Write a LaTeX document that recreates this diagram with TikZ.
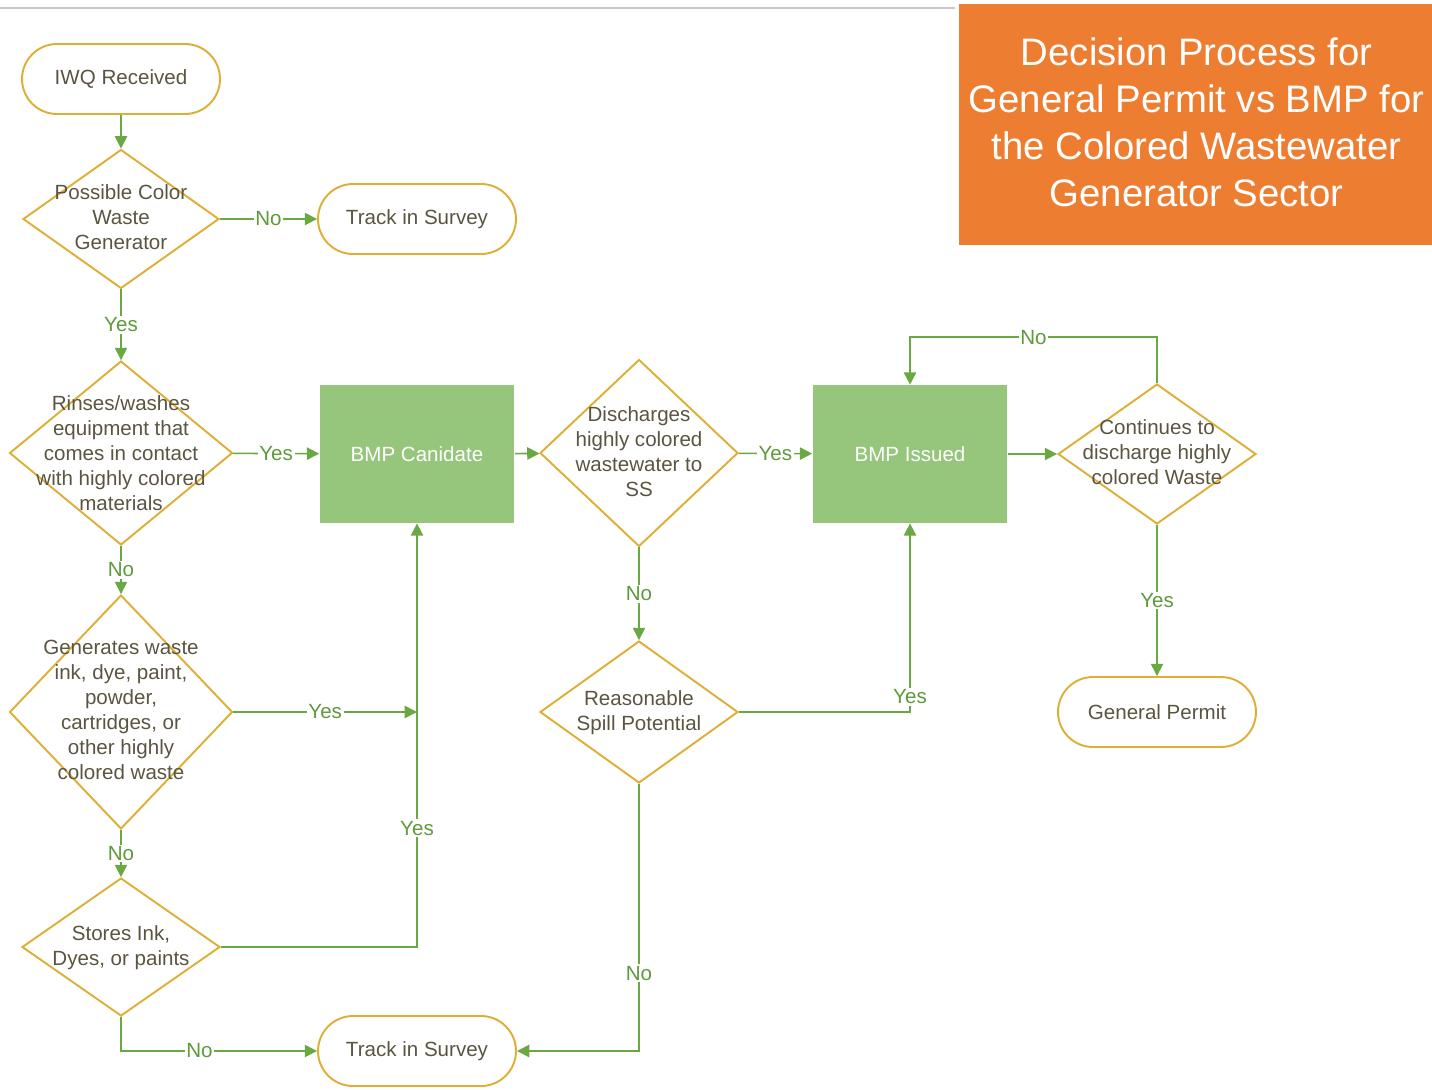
\documentclass[tikz,border=0pt]{standalone}
\usepackage{fontspec}
\setmainfont{Liberation Sans}
\usepackage{xcolor}
\usetikzlibrary{positioning, shapes, arrows.meta}

\definecolor{flowgold}{HTML}{DDAF35}
\definecolor{flowgreen}{HTML}{6AA843}
\definecolor{labgreen}{HTML}{5E9A3A}
\definecolor{boxgreen}{HTML}{96C67C}
\definecolor{inktext}{HTML}{5A5440}
\definecolor{titleorange}{HTML}{ED7D31}

\begin{document}
\begin{tikzpicture}[x=0.02cm, y=-0.02cm,
    >={Triangle[length=7pt,width=7pt]},
    every node/.style={font=\fontsize{11.7}{14.2}\selectfont},
    term/.style={draw=flowgold, line width=1.1pt, rectangle, rounded corners=0.7cm,
        minimum width=3.96cm, minimum height=1.4cm, text=inktext},
    dia/.style={draw=flowgold, line width=1.1pt, diamond, inner sep=0pt},
    txt/.style={align=center, text=inktext, inner sep=0pt},
    bmpbox/.style={fill=boxgreen, rectangle, minimum width=3.9cm, minimum height=2.76cm, text=white},
    link/.style={draw=flowgreen, line width=0.9pt, ->},
    ans/.style={fill=white, text=labgreen, inner sep=1pt}]

    \useasboundingbox (0,0) rectangle (1432,1089);

    % Top rule and title
    \draw[draw=black!22, line width=1pt] (0,8) -- (955,8);
    \node[fill=titleorange, minimum width=9.46cm, minimum height=4.82cm] (title) at (1195.5,124.5) {};
    \node[text=white, align=center, inner sep=0pt, font=\fontsize{21.8}{26.7}\selectfont]
        (title-t) at (1196.5,122)
        {Decision Process for\\General Permit vs BMP for\\the Colored Wastewater\\Generator Sector};

    % Left column
    \node[term] (iwq) at (121,79) {IWQ Received};
    \node[dia, minimum width=3.92cm, minimum height=2.78cm] (poss) at (121,219) {};
    \node[txt] (poss-t) at (121,217) {Possible Color\\Waste\\Generator};
    \node[term] (track1) at (417,219) {Track in Survey};
    \node[dia, minimum width=4.46cm, minimum height=3.68cm] (rinse) at (121,453) {};
    \node[txt] (rinse-t) at (121,453) {Rinses/washes\\equipment that\\comes in contact\\with highly colored\\materials};
    \node[dia, minimum width=4.46cm, minimum height=4.68cm] (gen) at (121,712) {};
    \node[txt] (gen-t) at (121,710) {Generates waste\\ink, dye, paint,\\powder,\\cartridges, or\\other highly\\colored waste};
    \node[dia, minimum width=3.96cm, minimum height=2.76cm] (store) at (121,947) {};
    \node[txt] (store-t) at (121,948) {Stores Ink,\\Dyes, or paints};
    \node[term] (track2) at (417,1051) {Track in Survey};

    % Middle and right
    \node[bmpbox] (bmpc) at (417,454) {BMP Canidate};
    \node[dia, minimum width=3.96cm, minimum height=3.74cm] (dis) at (639,453) {};
    \node[txt] (dis-t) at (639,452) {Discharges\\highly colored\\wastewater to\\SS};
    \node[dia, minimum width=3.96cm, minimum height=2.84cm] (spill) at (639,712) {};
    \node[txt] (spill-t) at (639,713) {Reasonable\\Spill Potential};
    \node[bmpbox] (bmpi) at (910,454) {BMP Issued};
    \node[dia, minimum width=3.96cm, minimum height=2.8cm] (cont) at (1157,454) {};
    \node[txt] (cont-t) at (1157,452) {Continues to\\discharge highly\\colored Waste};
    \node[term] (gp) at (1157,712) {General Permit};

    \coordinate (join) at (bmpc |- gen);

    % Connections: left column
    \draw[link] (iwq) -- (poss);
    \draw[link] (poss) -- node[ans] {No} (track1);
    \draw[link] (poss) -- node[ans] {Yes} (rinse);
    \draw[link] (rinse) -- node[ans] {Yes} (bmpc);
    \draw[link] (rinse) -- node[ans] {No} (gen);
    \draw[link] (gen.east) -- node[ans] {Yes} (join);
    \draw[link] (gen) -- node[ans] {No} (store);
    \draw[link] (store.east) -| node[ans, pos=0.64] {Yes} (bmpc.south);
    \draw[link] (store.south) |- node[ans, pos=0.70] {No} (track2.west);

    % Connections: middle and right
    \draw[link] (bmpc) -- (dis);
    \draw[link] (dis) -- node[ans] {Yes} (bmpi);
    \draw[link] (dis) -- node[ans] {No} (spill);
    \draw[link] (spill.east) -| node[ans, pos=0.54] {Yes} (bmpi.south);
    \draw[link] (spill.south) |- node[ans, pos=0.354] {No} (track2.east);
    \draw[link] (bmpi) -- (cont);
    \draw[link] (cont.north) -- ++(0,-46) -| node[ans, pos=0.25] {No} (bmpi.north);
    \draw[link] (cont) -- node[ans] {Yes} (gp);

\end{tikzpicture}
\end{document}
